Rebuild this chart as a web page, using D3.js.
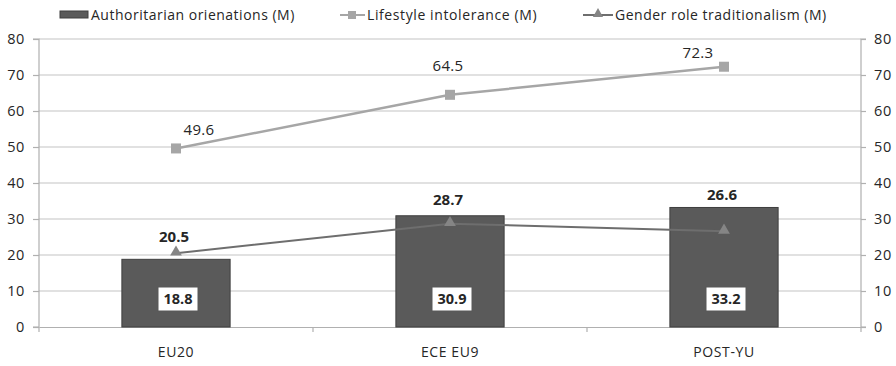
<!DOCTYPE html>
<html><head><meta charset="utf-8">
<script src="https://cdn.jsdelivr.net/npm/d3@7"></script>
<style>body{margin:0;background:#fff}svg{display:block}text{font-family:"Open Sans",sans-serif;fill:#262626}</style>
</head><body>
<svg id="c" width="896" height="366"></svg>
<script>
const categories = ["EU20", "ECE EU9", "POST-YU"];
const authoritarian = [18.8, 30.9, 33.2];
const lifestyle = [49.6, 64.5, 72.3];
const gender = [20.5, 28.7, 26.6];
const yTicks = [0, 10, 20, 30, 40, 50, 60, 70, 80];
const seriesNames = ["Authoritarian orienations (M)", "Lifestyle intolerance (M)", "Gender role traditionalism (M)"];

const svg = d3.select("#c");
const L = 39, R = 861, T = 39, B = 327;
const x = d3.scaleBand().domain(categories).range([L, R]).padding(0);
const y = d3.scaleLinear().domain([0, 80]).range([B, T]);
const bw = x.bandwidth() * 0.395;
const cx = c => x(c) + x.bandwidth() / 2;

// gridlines
svg.append("g").selectAll("line").data(yTicks.filter(t => t > 0)).join("line")
  .attr("x1", L).attr("x2", R).attr("y1", d => y(d)).attr("y2", d => y(d))
  .attr("stroke", "#c4c4c4").attr("stroke-width", 1.2);

// left axis
const la = svg.append("g").attr("transform", `translate(${L},0)`)
  .call(d3.axisLeft(y).tickValues(yTicks).tickSize(6).tickPadding(8));
// right axis
const ra = svg.append("g").attr("transform", `translate(${R},0)`)
  .call(d3.axisRight(y).tickValues(yTicks).tickSize(5).tickPadding(8));
[la, ra].forEach(a => {
  a.selectAll("path,line").attr("stroke", "#b0b0b0").attr("stroke-width", 1.2);
  a.select(".domain").attr("d", a === la ? `M-6,${T}H0V${B}H-6` : `M5,${T}H0V${B}H5`);
  a.selectAll("text").attr("font-size", 14.5).attr("letter-spacing", 0.6)
    .attr("font-family", "Open Sans").attr("fill", "#262626");
});

// x axis
const xa = svg.append("g").attr("transform", `translate(0,${B})`)
  .call(d3.axisBottom(x).tickSize(0).tickPadding(20));
xa.select(".domain").attr("stroke", "#b0b0b0").attr("stroke-width", 1.2);
xa.selectAll("text").attr("font-size", 14).attr("letter-spacing", 0.6)
  .attr("font-family", "Open Sans").attr("fill", "#262626");
const bounds = [L].concat(categories.map(c => x(c) + x.bandwidth()));
svg.append("g").selectAll("line").data(bounds).join("line")
  .attr("x1", d => d).attr("x2", d => d).attr("y1", B).attr("y2", B + 5)
  .attr("stroke", "#b0b0b0").attr("stroke-width", 1.2);

// bars
svg.append("g").selectAll("rect").data(authoritarian).join("rect")
  .attr("x", (d, i) => cx(categories[i]) - bw / 2).attr("width", bw)
  .attr("y", d => y(d)).attr("height", d => B - y(d))
  .attr("fill", "#5a5a5a").attr("stroke", "#3f3f3f").attr("stroke-width", 1);

// bar labels (white boxes)
const bl = svg.append("g").selectAll("g").data(authoritarian).join("g")
  .attr("transform", (d, i) => `translate(${cx(categories[i]) + 2},${299})`);
bl.append("rect").attr("x", -20).attr("y", -12).attr("width", 40).attr("height", 24)
  .attr("fill", "#fff").attr("stroke", "#595959").attr("stroke-width", 1);
bl.append("text").attr("text-anchor", "middle").attr("dy", "0.36em")
  .attr("font-size", 14.5).attr("font-weight", "bold").text(d => d.toFixed(1));

// lifestyle line
const line = d3.line().x((d, i) => cx(categories[i])).y(d => y(d));
svg.append("path").datum(lifestyle).attr("d", line).attr("fill", "none")
  .attr("stroke", "#a6a6a6").attr("stroke-width", 2.5);
svg.append("g").selectAll("rect").data(lifestyle).join("rect")
  .attr("x", (d, i) => cx(categories[i]) - 5).attr("y", d => y(d) - 5)
  .attr("width", 10).attr("height", 10).attr("fill", "#a6a6a6");
const lsOff = [[23, -19], [-2, -29], [-26, -14]];
svg.append("g").selectAll("text").data(lifestyle).join("text")
  .attr("x", (d, i) => cx(categories[i]) + lsOff[i][0])
  .attr("y", (d, i) => y(d) + lsOff[i][1]).attr("dy", "0.36em")
  .attr("text-anchor", "middle").attr("font-size", 15).attr("letter-spacing", 0.3).text(d => d.toFixed(1));

// gender line
svg.append("path").datum(gender).attr("d", line).attr("fill", "none")
  .attr("stroke", "#6e6e6e").attr("stroke-width", 2);
const tri = d3.symbol().type(d3.symbolTriangle).size(60);
svg.append("g").selectAll("path").data(gender).join("path")
  .attr("transform", (d, i) => `translate(${cx(categories[i])},${y(d) - 1})`)
  .attr("d", tri).attr("fill", "#858585");
const gLab = [237, 200, 195];
svg.append("g").selectAll("text").data(gender).join("text")
  .attr("x", (d, i) => cx(categories[i]) - 2)
  .attr("y", (d, i) => y(d) - (y(d) - gLab[i])).attr("dy", "0.36em")
  .attr("text-anchor", "middle").attr("font-size", 15).attr("font-weight", "bold").text(d => d.toFixed(1));

// legend
const lg = svg.append("g");
lg.append("rect").attr("x", 60).attr("y", 11).attr("width", 28).attr("height", 7)
  .attr("fill", "#5a5a5a").attr("stroke", "#3f3f3f");
lg.append("text").attr("x", 91).attr("y", 15).attr("dy", "0.36em").attr("font-size", 14).attr("letter-spacing", 0.5).text(seriesNames[0]);
lg.append("line").attr("x1", 340).attr("x2", 365).attr("y1", 15).attr("y2", 15)
  .attr("stroke", "#a6a6a6").attr("stroke-width", 2);
lg.append("rect").attr("x", 348).attr("y", 11).attr("width", 8).attr("height", 8).attr("fill", "#a6a6a6");
lg.append("text").attr("x", 367).attr("y", 15).attr("dy", "0.36em").attr("font-size", 14).attr("letter-spacing", 0.6).text(seriesNames[1]);
lg.append("line").attr("x1", 583).attr("x2", 613).attr("y1", 15).attr("y2", 15)
  .attr("stroke", "#6e6e6e").attr("stroke-width", 2);
lg.append("path").attr("transform", "translate(598,14)").attr("d", d3.symbol().type(d3.symbolTriangle).size(45)).attr("fill", "#858585");
lg.append("text").attr("x", 615).attr("y", 15).attr("dy", "0.36em").attr("font-size", 14).attr("letter-spacing", 0.5).text(seriesNames[2]);
</script>
</body></html>
